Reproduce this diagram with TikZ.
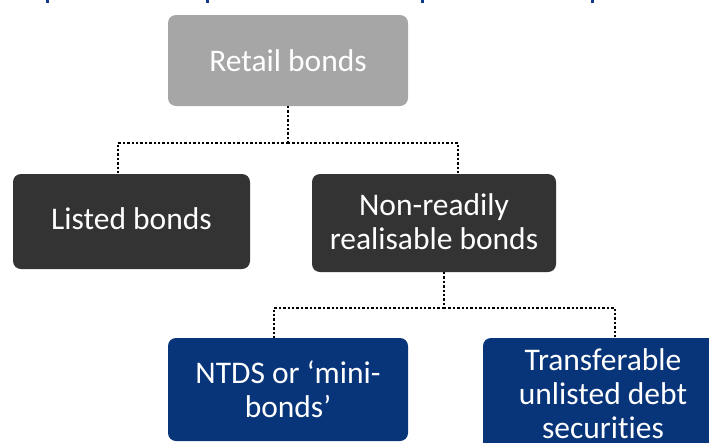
\documentclass[tikz,border=0pt]{standalone}
\usepackage{fontspec}
\setmainfont[Ligatures=NoCommon]{Carlito}
\usetikzlibrary{calc}
\definecolor{boxgray}{RGB}{166,166,166}
\definecolor{boxdark}{RGB}{51,51,51}
\definecolor{boxnavy}{RGB}{8,53,122}
\definecolor{titleblue}{RGB}{16,58,138}
\tikzset{
  card/.style={rounded corners=8pt, inner sep=0pt, text=white, align=center,
    font=\fontsize{31.5}{34}\selectfont},
  conn/.style={line width=2.4pt, dash pattern=on 2.4pt off 2pt, black},
}
\begin{document}
\begin{tikzpicture}[x=1pt,y=-1pt]
\useasboundingbox (0,0) rectangle (709,442);
\clip (0,0) rectangle (709,442);

% descenders of the heading above the chart
\foreach \xx in {46,206,421,591}
  \fill[titleblue] (\xx,0) rectangle ++(3,3);

% boxes
\fill[boxgray, rounded corners=8pt] (168,15) rectangle (408,106);
\node[card] (top) at (288,60.5) {Retail bonds};
\coordinate (topS) at (288,106);

\fill[boxdark, rounded corners=8pt] (13,174) rectangle (250,269);
\node[card] (listed) at (131.5,219) {Listed bonds};

\fill[boxdark, rounded corners=8pt] (312,174) rectangle (556,272);
\node[card] (nonready) at (434,222) {Non-readily\\realisable bonds};

\fill[boxnavy, rounded corners=8pt] (168,338) rectangle (408,441);
\node[card] (ntds) at (288,389) {NTDS or ‘mini-\\bonds’};

\fill[boxnavy, rounded corners=8pt] (483,338) rectangle (723,476);
\node[card] (transfer) at (603,394) {Transferable\\unlisted debt\\securities};

% connectors
\coordinate (j1) at (288,143);
\coordinate (dl) at (118,174);
\coordinate (dr) at (458,174);
\coordinate (nrS) at (444,272);
\coordinate (j2) at (444,308);
\coordinate (dn) at (274,338);
\coordinate (dt) at (615,338);

\draw[conn] (topS) -- (j1);
\draw[conn] (j1) -| (dl);
\draw[conn] (j1) -| (dr);
\draw[conn] (nrS) -- (j2);
\draw[conn] (j2) -| (dn);
\draw[conn] (j2) -| (dt);
\end{tikzpicture}
\end{document}
